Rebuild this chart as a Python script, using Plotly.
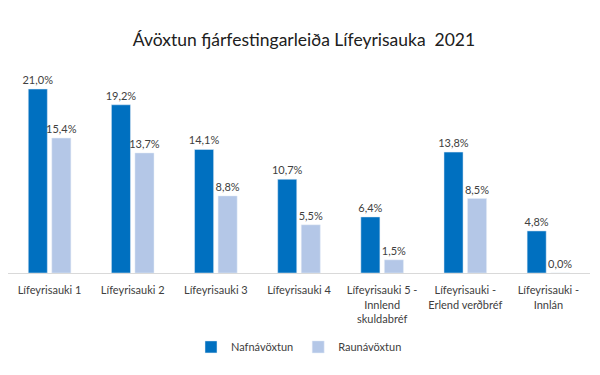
import plotly.graph_objects as go

categories = ["Lífeyrisauki 1", "Lífeyrisauki 2", "Lífeyrisauki 3", "Lífeyrisauki 4",
              "Lífeyrisauki 5 -<br>Innlend<br>skuldabréf", "Lífeyrisauki -<br>Erlend verðbréf",
              "Lífeyrisauki -<br>Innlán"]
nafnavoxtun = [21.0, 19.2, 14.1, 10.7, 6.4, 13.8, 4.8]
raunavoxtun = [15.4, 13.7, 8.8, 5.5, 1.5, 8.5, 0.0]

FONT = "Lato"
TXT = "#404040"
W, H = 592, 367  # page body has 8px margin

fig = go.Figure()
fig.add_trace(go.Bar(x=categories, y=nafnavoxtun, name="Nafnávöxtun",
                     marker_color="#0070C0", texttemplate="%{y:.1f}%",
                     textposition="outside", cliponaxis=False, constraintext="none",
                     textfont=dict(family=FONT, size=11, color=TXT)))
fig.add_trace(go.Bar(x=categories, y=raunavoxtun, name="Raunávöxtun",
                     marker_color="#B4C7E7", texttemplate="%{y:.1f}%",
                     textposition="outside", cliponaxis=False, constraintext="none",
                     textfont=dict(family=FONT, size=11, color=TXT)))

fig.update_layout(
    width=W, height=H,
    separators=",.",
    barmode="group", bargap=0.434, bargroupgap=0.19,
    plot_bgcolor="white", paper_bgcolor="white",
    margin=dict(l=0, r=10, t=72, b=102, autoexpand=False),
    title=dict(text="Ávöxtun fjárfestingarleiða Lífeyrisauka  2021", x=0.5, xanchor="center",
               y=1 - 32 / H, yanchor="middle",
               font=dict(family=FONT, size=17.5, color="#202020")),
    font=dict(family=FONT, size=11, color=TXT),
    xaxis=dict(showline=True, linecolor="#D9D9D9", linewidth=1, ticks="", automargin=False,
               ticklabelstandoff=7,
               tickfont=dict(family=FONT, size=11, color=TXT)),
    yaxis=dict(range=[0, 22.03], visible=False, showgrid=False, zeroline=False, automargin=False),
    legend=dict(orientation="h", x=0.5, xanchor="center", y=-0.383, yanchor="middle",
                font=dict(family=FONT, size=11, color=TXT), itemwidth=30,
                traceorder="normal"),
    showlegend=True,
)

fig.write_html("out.html")
